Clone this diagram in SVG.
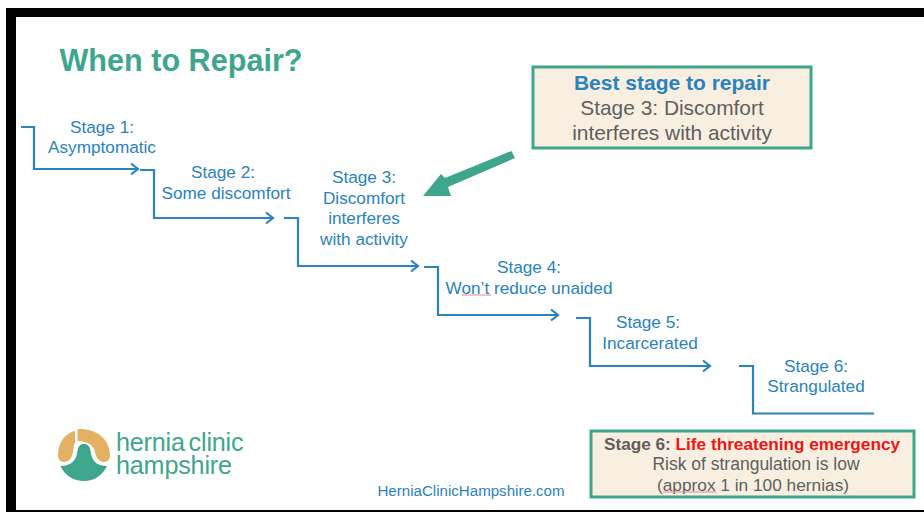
<svg xmlns="http://www.w3.org/2000/svg" width="924" height="512" viewBox="0 0 924 512">
<style>
text{font-family:"Liberation Sans",Arial,sans-serif;text-anchor:middle}
.st{font-size:17.2px;fill:#2a82bf}
.g{font-size:20.9px;fill:#5f5f5f}
.c{fill:none;stroke:#2a82bf;stroke-width:2.2}
.box{fill:#f8efe0;stroke:#3fa68e;stroke-width:3}
.sq{fill:none;stroke:#e58a8a;stroke-width:1}
</style>
<defs>
<marker id="ah" markerUnits="userSpaceOnUse" markerWidth="14" markerHeight="14" refX="11" refY="7" orient="auto"><path d="M4 1.5L11 7L4 12.5" fill="none" stroke="#2a82bf" stroke-width="2.2"/></marker>
</defs>
<rect width="924" height="512" fill="#fff"/>
<path d="M6 8H924V17H16V510H924V512H6Z" fill="#000"/>
<text x="181" y="71" style="font-size:30.6px;font-weight:bold;fill:#3fa68e">When to Repair?</text>
<g id="connectors">
<path class="c" d="M21 127H34V169H138" marker-end="url(#ah)"/>
<path class="c" d="M140 170H154V218H273" marker-end="url(#ah)"/>
<path class="c" d="M284 218H298V266H418" marker-end="url(#ah)"/>
<path class="c" d="M424 267H438V315H558" marker-end="url(#ah)"/>
<path class="c" d="M576 318H590V366H710" marker-end="url(#ah)"/>
<path class="c" d="M739 366H753V413.5H874"/>
<path d="M511.5 151L515 158L448 187L451 196L423 196L441 174L445 178Z" fill="#3fa68e"/>
</g>
<g id="stage1"><text class="st" x="102" y="133">Stage 1:</text><text class="st" x="102" y="153">Asymptomatic</text></g>
<g id="stage2"><text class="st" x="223" y="178">Stage 2:</text><text class="st" x="226" y="199">Some discomfort</text></g>
<g id="stage3"><text class="st" x="364" y="183">Stage 3:</text><text class="st" x="364" y="204">Discomfort</text><text class="st" x="364" y="224">interferes</text><text class="st" x="364" y="245">with activity</text></g>
<g id="stage4"><text class="st" x="529" y="273">Stage 4:</text><text class="st" x="529" y="294">Won’t reduce unaided</text><path class="sq" d="M462 295H491"/></g>
<g id="stage5"><text class="st" x="648" y="328">Stage 5:</text><text class="st" x="650" y="349">Incarcerated</text></g>
<g id="stage6"><text class="st" x="816" y="372">Stage 6:</text><text class="st" x="816" y="392">Strangulated</text></g>
<g id="best-box">
<rect class="box" x="533" y="67" width="278" height="81"/>
<text x="672" y="90" style="font-size:21px;font-weight:bold;fill:#2a82bf">Best stage to repair</text>
<text class="g" x="672" y="115">Stage 3: Discomfort</text>
<text class="g" x="672" y="140">interferes with activity</text>
</g>
<g id="emergency-box">
<rect class="box" x="591" y="431" width="323" height="66"/>
<text x="752" y="450" style="font-size:17.2px;font-weight:bold;fill:#5f5f5f">Stage 6: <tspan fill="#f01414">Life threatening emergency</tspan></text>
<text x="756" y="470" style="font-size:17.5px;fill:#5f5f5f">Risk of strangulation is low</text>
<text x="753" y="491" style="font-size:17.3px;fill:#5f5f5f">(approx 1 in 100 hernias)</text>
<path class="sq" d="M663 492H716"/>
</g>
<g id="logo">
<path d="M60.5 466C68 466 75 463 77 454C78 446 80 444 84 444C88 444 90 446 91 454C93 463 99 466 107 466C102 476 94 481 84 481C74 481 65 476 60.5 466Z" fill="#3fa68e"/>
<path d="M77.5 429C95 428 110 438 110 455C110 459 108 462 104 462C99 462 96 458 95 452C94 446 88 441 77.5 441Z" fill="#e3b162"/>
<path d="M75 431C65 433 58 443 58 455C58 459 60 462 64 462C69 462 72 458 73 452C74 446 74 444 75 443Z" fill="#e3b162"/>
<text x="116" y="451" style="font-size:25.2px;fill:#3fa68e;text-anchor:start;word-spacing:-3px;letter-spacing:-.2px">hernia clinic</text>
<text x="116" y="474" style="font-size:25.2px;fill:#3fa68e;text-anchor:start;letter-spacing:-.2px">hampshire</text>
</g>
<text x="471" y="496" style="font-size:15.1px;fill:#2a82bf">HerniaClinicHampshire.com</text>
</svg>
